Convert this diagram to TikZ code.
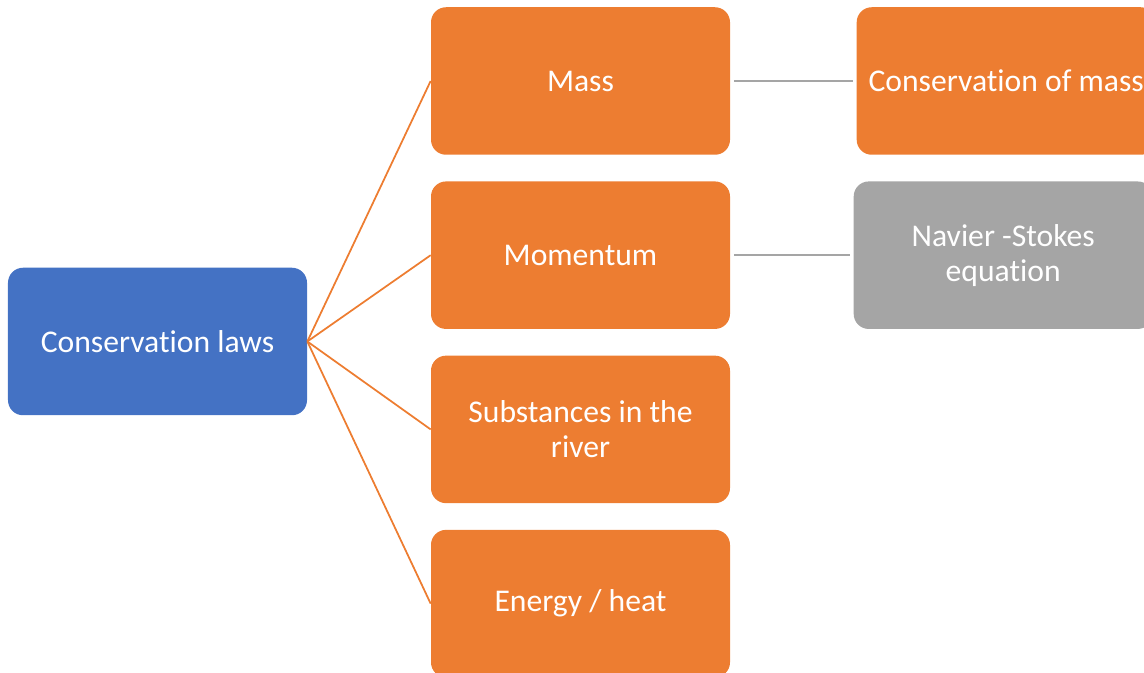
\documentclass[tikz,border=0pt]{standalone}
\usepackage{fontspec}
\setmainfont[Ligatures={NoCommon}]{Carlito}
\usepackage{tikz}
\usetikzlibrary{positioning}
\definecolor{offorange}{HTML}{ED7D31}
\definecolor{offblue}{HTML}{4472C4}
\definecolor{offgray}{HTML}{A5A5A5}
\begin{document}
\begin{tikzpicture}[node distance=0.52cm]

      \tikzstyle{box}=[rectangle,rounded corners=0.3cm,text=white,align=center,
      			  minimum width=5.98cm,minimum height=2.95cm,
      			  font=\fontsize{18}{20}\selectfont]
      \tikzstyle{root}=[box,fill=offblue]
      \tikzstyle{topic}=[box,fill=offorange]
      \tikzstyle{detail}=[box,fill=offgray]
      \tikzstyle{branch}=[draw=offorange,line width=1pt]
      \tikzstyle{link}=[draw=offgray,line width=1.2pt,shorten <=2pt,shorten >=2pt]

      \useasboundingbox (0,0) rectangle (22.88,-13.46);
      \clip (0,0) rectangle (22.88,-13.46);

      %root
      \node [root] (laws) at (3.15,-6.83) {Conservation laws};

      %topics
      \node [topic] (mass) at (11.61,-1.62) {Mass};
      \node [topic] (mom) [below=of mass] {Momentum};
      \node [topic] (subst) [below=of mom] {Substances in the\\river};
      \node [topic] (energy) [below=of subst] {Energy / heat};

      %details
      \node [topic] (cmass) [right=2.52cm of mass] {Conservation of mass};
      \node [detail] (navier) [right=2.46cm of mom] {Navier -Stokes\\equation};

      %connectors
      \foreach \t in {mass,mom,subst,energy}
        \draw [branch] (laws.east) -- (\t.west);
      \draw [link] (mass.east) -- (cmass.west);
      \draw [link] (mom.east) -- (navier.west);

\end{tikzpicture}
\end{document}
